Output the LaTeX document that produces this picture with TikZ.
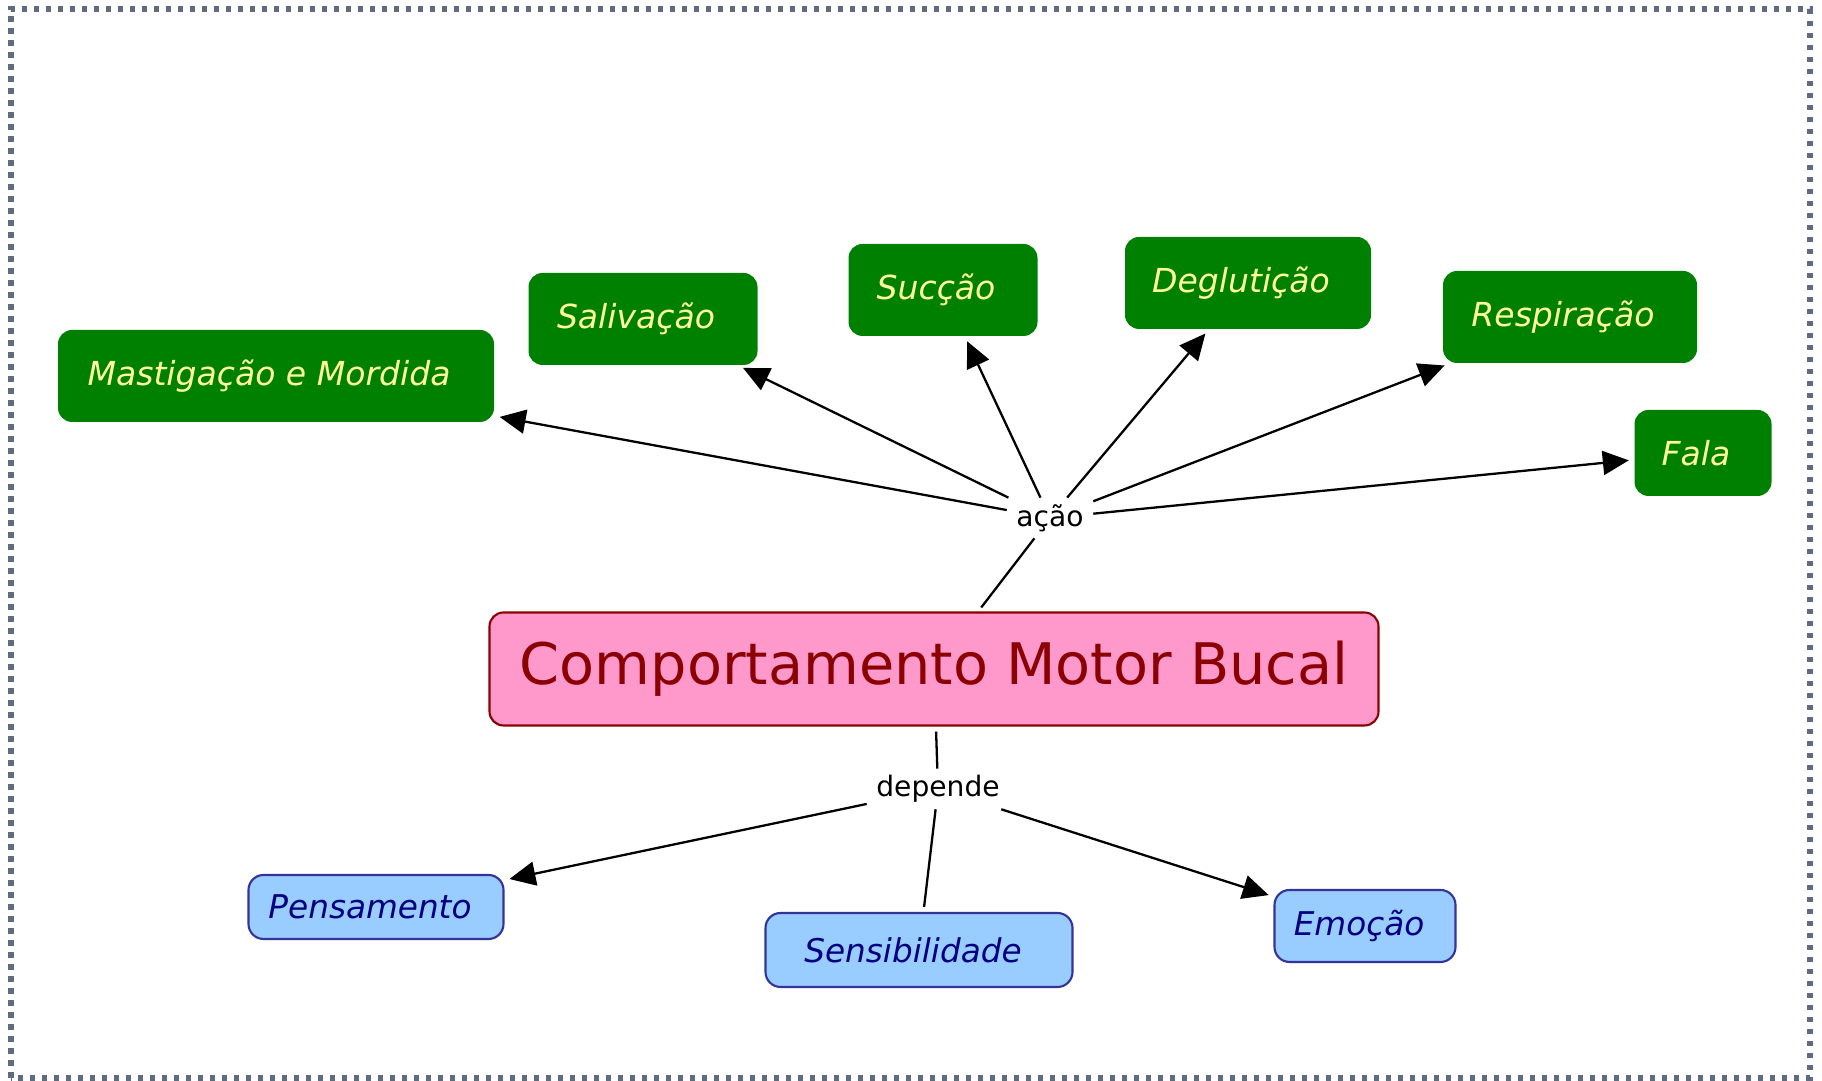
\documentclass[tikz,border=0pt]{standalone}
\usepackage{fontspec}
\setmainfont{DejaVu Sans}
\usetikzlibrary{arrows.meta}
\definecolor{taskgreen}{HTML}{008000}
\definecolor{taskyellow}{HTML}{FFFF99}
\definecolor{mainpink}{HTML}{FF99CC}
\definecolor{mainred}{HTML}{8B0000}
\definecolor{factorblue}{HTML}{99CCFF}
\definecolor{factornavy}{HTML}{000080}
\definecolor{factoredge}{HTML}{333399}
\definecolor{framegray}{HTML}{5E6B80}
\begin{document}
\begin{tikzpicture}[
    task/.style={fill=taskgreen, text=taskyellow, rounded corners=1.4mm,
      minimum height=9.2mm, inner sep=0pt,
      font=\fontsize{9.4}{11}\selectfont\itshape,
      execute at end node={\hspace*{1.4mm}}},
    mainbox/.style={draw=mainred, line width=0.6pt, fill=mainpink, text=mainred,
      rounded corners=1.4mm, minimum width=8.89cm, minimum height=11.3mm,
      font=\fontsize{16.3}{19}\selectfont},
    factor/.style={draw=factoredge, line width=0.6pt, fill=factorblue, text=factornavy,
      rounded corners=1.5mm, inner sep=0pt,
      font=\fontsize{9.3}{11}\selectfont\itshape,
      execute at end node={\hspace*{1.2mm}}},
    linklabel/.style={inner xsep=0.9mm, inner ysep=0.6mm, font=\fontsize{8}{10}\selectfont},
    arr/.style={->, >={Triangle[length=2.6mm,width=2.4mm]}, line width=0.65pt,
      shorten >=0.5mm},
    ln/.style={line width=0.65pt}]
  \useasboundingbox (0,0) rectangle (18.22,10.81);
  \draw[framegray, line width=0.55mm, dash pattern=on 0.55mm off 0.65mm]
    (0.11,0.03) rectangle (18.10,10.72);

  \node[task, minimum width=4.36cm] (mast) at (2.76,7.05) {Mastigação e Mordida};
  \node[task, minimum width=2.29cm] (saliv) at (6.43,7.62) {Salivação};
  \node[task, minimum width=1.89cm] (succ) at (9.43,7.91) {Sucção};
  \node[task, minimum width=2.46cm] (degl) at (12.48,7.98) {Deglutição};
  \node[task, minimum width=2.54cm] (resp) at (15.70,7.64) {Respiração};
  \node[task, minimum width=1.37cm, minimum height=8.6mm] (fala) at (17.03,6.28) {Fala};

  \node[linklabel] (acao) at (10.50,5.63) {ação};
  \node[mainbox] (cmb) at (9.34,4.12) {Comportamento Motor Bucal};
  \node[linklabel] (dep) at (9.38,2.92) {depende};

  \node[factor, minimum width=2.55cm, minimum height=6.4mm] (pens) at (3.76,1.74) {Pensamento};
  \node[factor, minimum width=3.07cm, minimum height=7.4mm] (sens) at (9.19,1.31) {Sensibilidade};
  \node[factor, minimum width=1.81cm, minimum height=7.2mm] (emoc) at (13.65,1.55) {Emoção};

  \draw[ln, shorten <=0.5mm] (cmb) -- (acao);
  \draw[arr] (acao) -- (mast);
  \draw[arr] (acao) -- (saliv);
  \draw[arr] (acao) -- (succ);
  \draw[arr] (acao) -- (degl);
  \draw[arr] (acao) -- (resp);
  \draw[arr] (acao) -- (fala);

  \draw[ln, shorten <=0.5mm] (cmb) -- (dep);
  \draw[arr] (dep) -- (pens);
  \draw[ln, shorten >=0.5mm] (dep) -- (sens);
  \draw[arr] (dep) -- (emoc);
\end{tikzpicture}
\end{document}
